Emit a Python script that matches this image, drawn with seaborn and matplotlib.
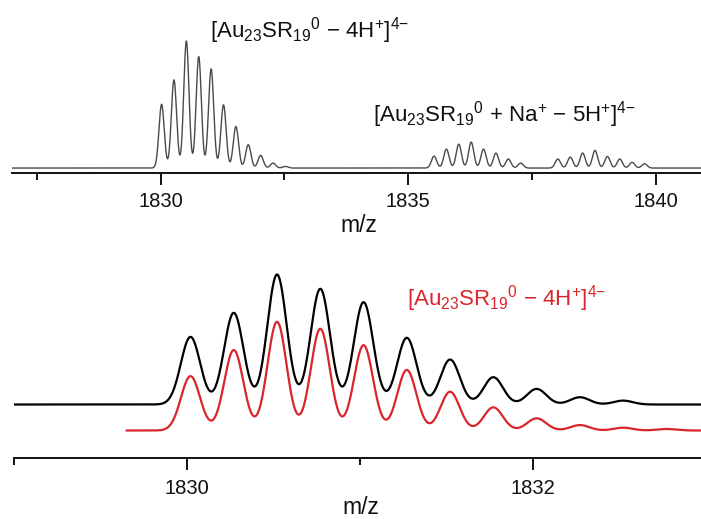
import numpy as np
import pandas as pd
import matplotlib
matplotlib.use("Agg")
import matplotlib.pyplot as plt
from matplotlib.ticker import MultipleLocator, NullLocator
import seaborn as sns

# ---- peak lists (m/z, relative height, max = 100) ----
top_main_mz = [1830.02, 1830.27, 1830.52, 1830.77, 1831.02, 1831.27,
               1831.52, 1831.77, 1832.02, 1832.27, 1832.52]
top_main_int = [50.2, 69.4, 100, 87.7, 78.0, 49.8, 32.7, 18.4, 10.0, 3.9, 1.3]

top_na_mz = [1835.52, 1835.77, 1836.02, 1836.27, 1836.52, 1836.77, 1837.02, 1837.27]
top_na_int = [9.4, 14.9, 18.8, 20.4, 14.9, 11.8, 7.1, 3.9]

top_third_mz = [1838.02, 1838.27, 1838.52, 1838.77, 1839.02, 1839.27, 1839.52, 1839.77]
top_third_int = [7.1, 8.6, 11.8, 13.9, 9.2, 7.1, 4.5, 3.4]

exp_mz = [1830.02, 1830.27, 1830.52, 1830.77, 1831.02, 1831.27,
          1831.52, 1831.77, 1832.02, 1832.27, 1832.52]
exp_int = [52.0, 70.5, 100, 89.0, 78.7, 51.3, 34.6, 21.0, 12.0, 5.6, 3.0]

sim_mz = [1830.02, 1830.27, 1830.52, 1830.77, 1831.02, 1831.27,
          1831.52, 1831.77, 1832.02, 1832.27, 1832.52, 1832.77]
sim_int = [50.0, 74.0, 100, 93.6, 78.5, 55.7, 35.7, 21.3, 11.2, 5.0, 2.6, 1.4]

TOP_XLIM = (1827.0, 1840.91)
BOT_XLIM = (1829.0, 1832.97)
SIM_START = 1829.65
RED = "#d9252b"

W, H = 701, 519


def profile(grid, centres, heights, sigma):
    """Gaussian line shape for a stick spectrum."""
    g = np.asarray(grid)[:, None]
    c = np.asarray(centres)[None, :]
    return (np.asarray(heights)[None, :] * np.exp(-(g - c) ** 2 / (2 * sigma ** 2))).sum(axis=1)


sns.set_style("ticks")
plt.rcParams["font.family"] = ["Liberation Sans", "DejaVu Sans"]
plt.rcParams["mathtext.fontset"] = "custom"
plt.rcParams["mathtext.rm"] = "Liberation Sans"
plt.rcParams["mathtext.it"] = "Liberation Sans:italic"
plt.rcParams["mathtext.bf"] = "Liberation Sans:bold"
plt.rcParams["text.color"] = "#111111"
plt.rcParams["xtick.color"] = "#111111"
plt.rcParams["axes.edgecolor"] = "#111111"

fig = plt.figure(figsize=(W / 100, H / 100), dpi=100)


def px_axes(left, bottom, right, top):
    return fig.add_axes([left / W, 1 - bottom / H, (right - left) / W, (bottom - top) / H])


def style_axis(ax, major, minor, pad):
    for s in ("left", "right", "top"):
        ax.spines[s].set_visible(False)
    ax.spines["bottom"].set_linewidth(1.4)
    ax.yaxis.set_major_locator(NullLocator())
    ax.xaxis.set_major_locator(MultipleLocator(major))
    ax.xaxis.set_minor_locator(MultipleLocator(minor))
    ax.tick_params(axis="x", which="major", direction="out", length=8.5, width=1.4,
                   pad=pad, labelsize=14.5, labelcolor="#111111")
    ax.tick_params(axis="x", which="minor", direction="out", length=5, width=1.4)
    ax.set_xlabel("")
    ax.set_ylabel("")
    ax.patch.set_alpha(0)


# ---- top panel: full spectrum ----
ax1 = px_axes(12, 173, W, 0)
grid_top = np.linspace(TOP_XLIM[0], TOP_XLIM[1], 4000)
top_y = (profile(grid_top, top_main_mz, top_main_int, 0.053)
         + profile(grid_top, top_na_mz, top_na_int, 0.053)
         + profile(grid_top, top_third_mz, top_third_int, 0.053))
top_df = pd.DataFrame({"mz": grid_top, "intensity": top_y})
sns.lineplot(data=top_df, x="mz", y="intensity", color="#4a4a4a", linewidth=1.0,
             estimator=None, ax=ax1)
ax1.set_xlim(*TOP_XLIM)
ax1.set_ylim(-3.9, 132.3)
style_axis(ax1, 5, 2.5, 5.5)

# ---- bottom panel: zoom, experiment vs simulation ----
ax2 = px_axes(14, 458, W, 250)
grid_exp = np.linspace(BOT_XLIM[0], BOT_XLIM[1], 3000)
grid_sim = np.linspace(SIM_START, BOT_XLIM[1], 3000)
exp_df = pd.DataFrame({"mz": grid_exp,
                       "intensity": profile(grid_exp, exp_mz, exp_int, 0.056),
                       "trace": "experiment"})
sim_df = pd.DataFrame({"mz": grid_sim,
                       "intensity": -20 + 0.836 * profile(grid_sim, sim_mz, sim_int, 0.055),
                       "trace": "simulation"})
bot_df = pd.concat([exp_df, sim_df], ignore_index=True)
sns.lineplot(data=bot_df, x="mz", y="intensity", hue="trace",
             palette={"experiment": "black", "simulation": RED},
             linewidth=1.6, estimator=None, legend=False, ax=ax2)
ax2.set_xlim(*BOT_XLIM)
ax2.set_ylim(-41.15, 118.85)
style_axis(ax2, 2, 1, 6.5)

# ---- labels ----
label_main = r"[Au$_{23}$SR$_{19}{}^{0}$ − 4H$^{+}$]$^{4{-}}$"
label_na = r"[Au$_{23}$SR$_{19}{}^{0}$ + Na$^{+}$ − 5H$^{+}$]$^{4{-}}$"

fig.text(210 / W, 1 - 37 / H, label_main, fontsize=16, ha="left", va="baseline")
fig.text(373 / W, 1 - 122 / H, label_na, fontsize=16, ha="left", va="baseline")
fig.text(407 / W, 1 - 306 / H, label_main, fontsize=16, ha="left", va="baseline", color=RED)

fig.text(359 / W, 1 - 225 / H, "m/z", fontsize=16.5, ha="center", va="center")
fig.text(361 / W, 1 - 507 / H, "m/z", fontsize=16.5, ha="center", va="center")

fig.savefig("out.png", dpi=100)
